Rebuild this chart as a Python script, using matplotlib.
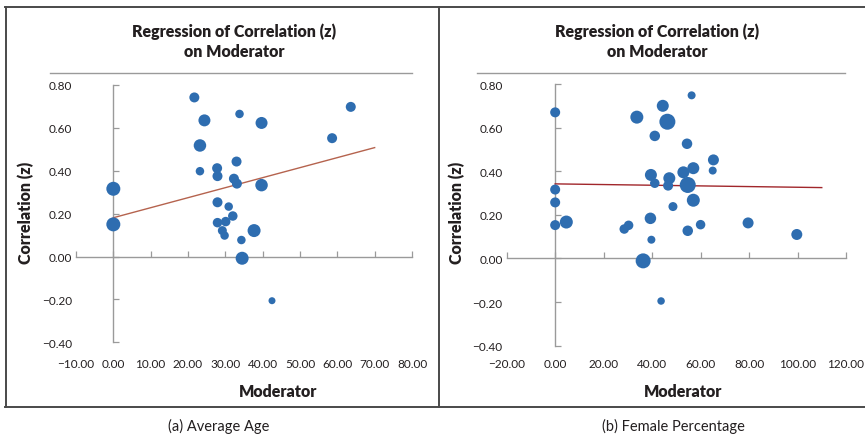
import numpy as np
import matplotlib
matplotlib.use("Agg")
import matplotlib.pyplot as plt
from matplotlib.lines import Line2D

plt.rcParams['font.family'] = ['Lato', 'DejaVu Sans']

# ---------------- data ----------------
# (a) Average Age
age_x = [21.7, 24.4, 33.8, 39.7, 63.6, 58.6, 23.2, 33.0, 23.2, 27.8, 27.9, 32.3, 33.1, 39.7,
         0.0, 27.9, 30.9, 32.0, 27.9, 30.1, 0.0, 29.2, 29.8, 37.7, 34.3, 34.5, 42.5]
age_y = [0.742, 0.635, 0.665, 0.623, 0.698, 0.552, 0.518, 0.443, 0.398, 0.412, 0.375, 0.363,
         0.340, 0.333, 0.316, 0.253, 0.233, 0.189, 0.158, 0.163, 0.150, 0.121, 0.098, 0.121,
         0.077, -0.008, -0.206]
age_w = [10, 12, 8.5, 12, 10, 10, 12.5, 10, 8.5, 10, 10, 10, 10, 12.5,
         14, 10, 8.5, 9.5, 9.5, 9.5, 14, 9, 8.5, 13, 8.5, 13, 7]
age_fit_x = [0.0, 70.0]
age_fit_y = [0.181, 0.508]

# (b) Female Percentage
fem_x = [0.0, 56.3, 44.4, 33.7, 46.3, 41.1, 54.4, 65.3, 65.0, 57.0, 52.9, 39.5, 47.1, 41.1,
         46.6, 54.7, 0.0, 57.0, 0.0, 48.6, 0.0, 4.6, 39.3, 30.3, 28.5, 39.7, 60.0, 54.7,
         79.6, 99.7, 36.3, 43.7]
fem_y = [0.670, 0.748, 0.700, 0.648, 0.627, 0.562, 0.526, 0.452, 0.403, 0.414, 0.395, 0.383,
         0.368, 0.345, 0.334, 0.337, 0.316, 0.267, 0.257, 0.238, 0.153, 0.167, 0.184, 0.152,
         0.135, 0.086, 0.155, 0.127, 0.163, 0.110, -0.011, -0.195]
fem_w = [10, 8, 12, 13, 16, 10.5, 10.5, 11, 8, 12, 12, 12, 12, 9.5,
         10, 16, 10, 13, 10, 9, 10, 13, 11.5, 9.5, 9.5, 8, 9.5, 10.5,
         11, 11, 15, 7.5]
fem_fit_x = [0.0, 110.0]
fem_fit_y = [0.342, 0.325]

age_xticks = np.arange(-10, 81, 10)
fem_xticks = np.arange(-20, 121, 20)
yticks = np.arange(-0.4, 0.81, 0.2)

title = "Regression of Correlation (z)\non Moderator"
ylabel = "Correlation (z)"
xlabel = "Moderator"
captions = ["(a) Average Age", "(b) Female Percentage"]

# ---------------- figure ----------------
W, H = 865, 435
fig = plt.figure(figsize=(W / 100, H / 100), dpi=100)

def fx(px):
    return px / W

def fy(py):
    return 1 - py / H

BLUE = '#2e6db0'
GRAY = '#9a9a9a'
TXT = '#231f20'

def panel(rect_px, xdata, ydata, wdata, xticks, xlim, fitx, fity, fitcolor,
          title_c, ylabel_x, xlabel_c, caption, caption_c, topline, xpad):
    l, t, r, b = rect_px
    ax = fig.add_axes([fx(l), fy(b), fx(r - l), (b - t) / H])
    ax.set_xlim(*xlim)
    ax.set_ylim(-0.4, 0.8)
    for s in ax.spines.values():
        s.set_visible(False)
    ax.set_xticks(xticks)
    ax.set_xticklabels([f"{v:.2f}".replace('-', '\u2212') for v in xticks])
    ax.set_yticks(yticks)
    ax.set_yticklabels([f"{v:.2f}".replace('-', '\u2212') for v in yticks])
    ax.tick_params(length=0, labelsize=8.5, colors=TXT)
    ax.tick_params(axis='x', pad=xpad)
    ax.tick_params(axis='y', pad=3)
    ax.patch.set_alpha(0)

    sx = ax.secondary_xaxis(0, transform=ax.transData)
    sx.set_xticks(xticks)
    sx.tick_params(direction='in', length=4, width=0.9, color=GRAY,
                   labelbottom=False, labeltop=False)
    for s in sx.spines.values():
        s.set_color(GRAY)
        s.set_linewidth(1.0)
    sy = ax.secondary_yaxis(0, transform=ax.transData)
    sy.set_yticks(yticks)
    sy.tick_params(direction='in', length=4, width=0.9, color=GRAY,
                   labelleft=False, labelright=False)
    for s in sy.spines.values():
        s.set_color(GRAY)
        s.set_linewidth(1.0)

    sizes = [(d * 0.72) ** 2 for d in wdata]
    ax.plot(fitx, fity, color=fitcolor, lw=1.0, zorder=2)
    ax.scatter(xdata, ydata, s=sizes, color=BLUE, edgecolors='none', zorder=3, clip_on=False)

    fig.text(fx(title_c), fy(42), title, ha='center', va='center', fontsize=11.5,
             fontweight='heavy', color=TXT, linespacing=1.3)
    fig.text(fx(ylabel_x), fy(213), ylabel, ha='center', va='center', rotation=90,
             fontsize=11.5, fontweight='heavy', color=TXT)
    fig.text(fx(xlabel_c), fy(392), xlabel, ha='center', va='center', fontsize=11.5,
             fontweight='heavy', color=TXT)
    fig.text(fx(caption_c), fy(426), caption, ha='center', va='center', fontsize=10.5,
             color=TXT)
    fig.add_artist(Line2D([fx(topline[0]), fx(topline[1])], [fy(74), fy(74)],
                          color=GRAY, lw=1.0))
    return ax

panel((76, 86, 412, 343.3), age_x, age_y, age_w, age_xticks, (-10, 80),
      age_fit_x, age_fit_y, '#b5634e', 234, 26, 278, captions[0], 219, (50, 412), 11)
panel((506.7, 85, 846, 346.7), fem_x, fem_y, fem_w, fem_xticks, (-20, 120),
      fem_fit_x, fem_fit_y, '#a1262b', 657, 457, 683, captions[1], 673, (477, 845), 9)

# outer frame
FR = '#4a4a4a'
for (x0, y0, x1, y1) in [(5, 7.5, 865, 7.5), (5, 408, 865, 408),
                         (6, 7.5, 6, 408), (439, 7.5, 439, 408)]:
    fig.add_artist(Line2D([fx(x0), fx(x1)], [fy(y0), fy(y1)], color=FR, lw=1.4))

fig.savefig("out.png", dpi=100)
